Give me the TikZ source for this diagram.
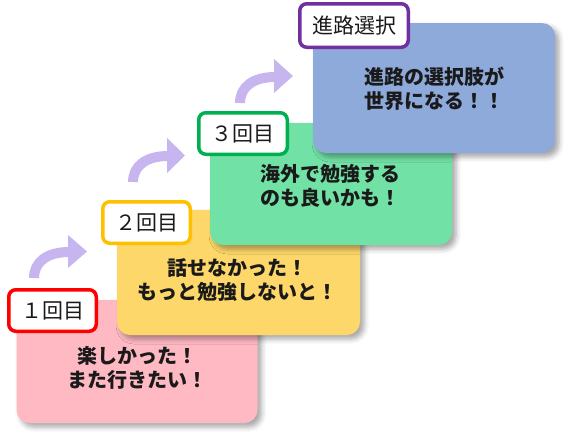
\documentclass[tikz,border=0pt]{standalone}
\usepackage{fontspec}
\setmainfont{Noto Sans CJK JP}
\usetikzlibrary{shadows.blur}
\definecolor{cpink}{HTML}{FFB9C3}
\definecolor{cyellow}{HTML}{FDD769}
\definecolor{cgreen}{HTML}{72E1A6}
\definecolor{cblue}{HTML}{8EAADB}
\definecolor{bred}{HTML}{FF0000}
\definecolor{byellow}{HTML}{FFC000}
\definecolor{bgreen}{HTML}{00B050}
\definecolor{bpurple}{HTML}{7030A0}
\definecolor{carrow}{HTML}{C6B5EE}
\definecolor{ctext}{HTML}{1A1A1A}
\tikzset{
  card/.style={rectangle, rounded corners=13pt, draw=none, inner sep=0pt,
    blur shadow={shadow xshift=4pt, shadow yshift=-4pt, shadow blur radius=5pt, shadow opacity=35}},
  cardtext/.style={align=center, text=ctext, font=\fontsize{20}{24}\selectfont\bfseries, inner sep=0pt},
  tag/.style={rectangle, rounded corners=7pt, fill=white, line width=3.5pt, inner sep=0pt,
    minimum height=41.5pt, text=ctext, font=\fontsize{21}{24}\selectfont},
  shaft/.style={draw=carrow, line width=10pt},
  head/.style={fill=carrow, draw=none},
}
\begin{document}
\begin{tikzpicture}[x=1pt, y=-1pt]
\useasboundingbox (0,0) rectangle (568,437);
% card 1
\node[card, fill=cpink, minimum width=241pt, minimum height=123pt] (c1) at (137,361.5) {};
\node[cardtext] (t1) at (137,368) {楽しかった！\\また行きたい！};
\node[tag, draw=bred, minimum width=87.5pt] (l1) at (52.5,310.5) {１回目};
% card 2
\node[card, fill=cyellow, minimum width=243pt, minimum height=125pt] (c2) at (238.5,272.5) {};
\node[cardtext] (t2) at (237.5,280) {話せなかった！\\もっと勉強しないと！};
\node[tag, draw=byellow, minimum width=87.5pt] (l2) at (146.5,222.5) {２回目};
% card 3
\node[card, fill=cgreen, minimum width=242pt, minimum height=122pt] (c3) at (331,184) {};
\node[cardtext] (t3) at (330,186) {海外で勉強する\\のも良いかも！};
\node[tag, draw=bgreen, minimum width=88.5pt] (l3) at (243,133.5) {３回目};
% card 4
\node[card, fill=cblue, minimum width=242pt, minimum height=130pt] (c4) at (434,88) {};
\node[cardtext] (t4) at (434,88.5) {進路の選択肢が\\世界になる！！};
\node[tag, draw=bpurple, minimum width=108.5pt, minimum height=43.5pt] (l4) at (354,25.5) {進路選択};
% arrows
\coordinate (a1s) at (34,278); \coordinate (a1b) at (69,252);
\coordinate (a2s) at (133,182); \coordinate (a2b) at (168,156);
\coordinate (a3s) at (240,103); \coordinate (a3b) at (275,77);
\draw[shaft] (a1s) .. controls (34,262) and (47,252) .. (a1b);
\fill[head] (68,235) -- (68,268) -- (87,251.5) -- cycle;
\draw[shaft] (a2s) .. controls (133,166) and (146,156) .. (a2b);
\fill[head] (167,138) -- (167,173) -- (185,155.5) -- cycle;
\draw[shaft] (a3s) .. controls (240,87) and (253,77) .. (a3b);
\fill[head] (274,59) -- (274,93) -- (293,76) -- cycle;
\end{tikzpicture}
\end{document}
